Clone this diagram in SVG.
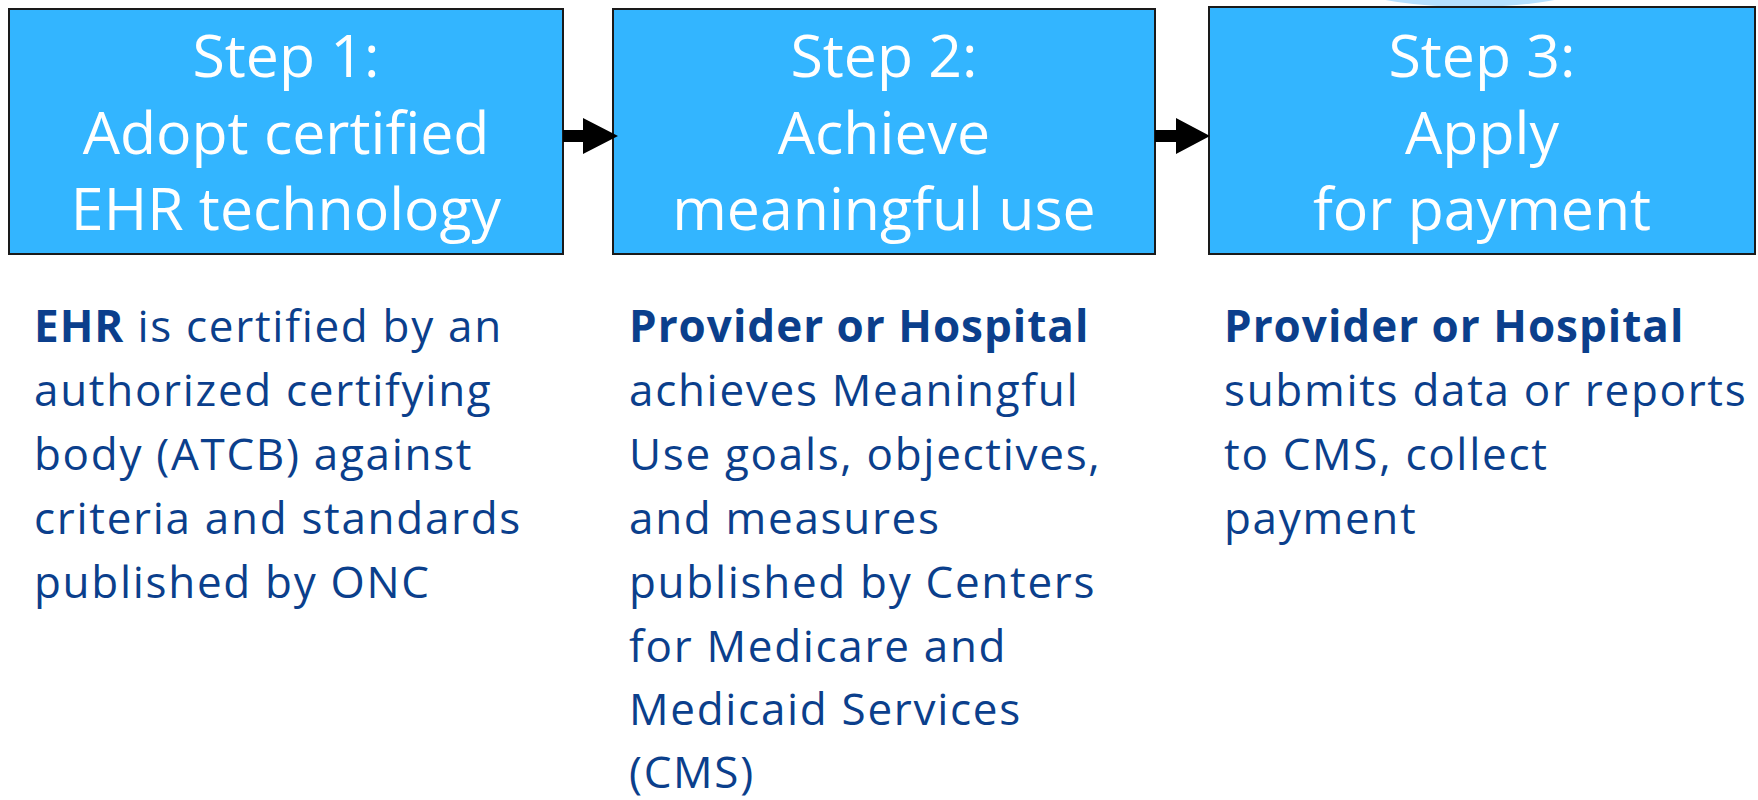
<svg xmlns="http://www.w3.org/2000/svg" width="1758" height="800" viewBox="0 0 1758 800">
  <style>
    .box { fill: #33B5FF; stroke: #1a1a1a; stroke-width: 2; }
    .title { font-family: "Open Sans", "Liberation Sans", sans-serif; font-size: 59px; fill: #ffffff; text-anchor: middle; }
    .body { font-family: "Open Sans", "Liberation Sans", sans-serif; font-size: 44px; fill: #0B3F8C; letter-spacing: 1.7px; }
    .b { font-weight: bold; letter-spacing: 1px; }
    .arrow { fill: #000000; }
  </style>
  <rect width="1758" height="800" fill="#ffffff"/>
  <ellipse cx="1470" cy="-60" rx="190" ry="67" fill="#b5e0ff"/>

  <g id="step1">
    <rect class="box" x="9" y="9" width="554" height="245"/>
    <text class="title" x="286" y="77">Step 1:</text>
    <text class="title" x="286" y="154">Adopt certified</text>
    <text class="title" x="286" y="230">EHR technology</text>
  </g>
  <g id="step2">
    <rect class="box" x="613" y="9" width="542" height="245"/>
    <text class="title" x="884" y="77">Step 2:</text>
    <text class="title" x="884" y="154">Achieve</text>
    <text class="title" x="884" y="230">meaningful use</text>
  </g>
  <g id="step3">
    <rect class="box" x="1209" y="7" width="546" height="247"/>
    <text class="title" x="1482" y="77">Step 3:</text>
    <text class="title" x="1482" y="154">Apply</text>
    <text class="title" x="1482" y="230">for payment</text>
  </g>

  <g id="desc1">
    <text class="body" x="34" y="342"><tspan class="b">EHR</tspan> is certified by an</text>
    <text class="body" x="34" y="406">authorized certifying</text>
    <text class="body" x="34" y="470">body (ATCB) against</text>
    <text class="body" x="34" y="534">criteria and standards</text>
    <text class="body" x="34" y="598">published by ONC</text>
  </g>
  <g id="desc2">
    <text class="body b" x="629" y="342">Provider or Hospital</text>
    <text class="body" x="629" y="406">achieves Meaningful</text>
    <text class="body" x="629" y="470">Use goals, objectives,</text>
    <text class="body" x="629" y="534">and measures</text>
    <text class="body" x="629" y="598">published by Centers</text>
    <text class="body" x="629" y="662">for Medicare and</text>
    <text class="body" x="629" y="725">Medicaid Services</text>
    <text class="body" x="629" y="788">(CMS)</text>
  </g>
  <g id="desc3">
    <text class="body b" x="1224" y="342">Provider or Hospital</text>
    <text class="body" x="1224" y="406">submits data or reports</text>
    <text class="body" x="1224" y="470">to CMS, collect</text>
    <text class="body" x="1224" y="534">payment</text>
  </g>

  <g id="connectors">
    <path class="arrow" d="M563,130 L583,130 L583,118 L618,136 L583,154 L583,142 L563,142 Z"/>
    <path class="arrow" d="M1155,130 L1176,130 L1176,118 L1210,136 L1176,154 L1176,142 L1155,142 Z"/>
  </g>
</svg>
